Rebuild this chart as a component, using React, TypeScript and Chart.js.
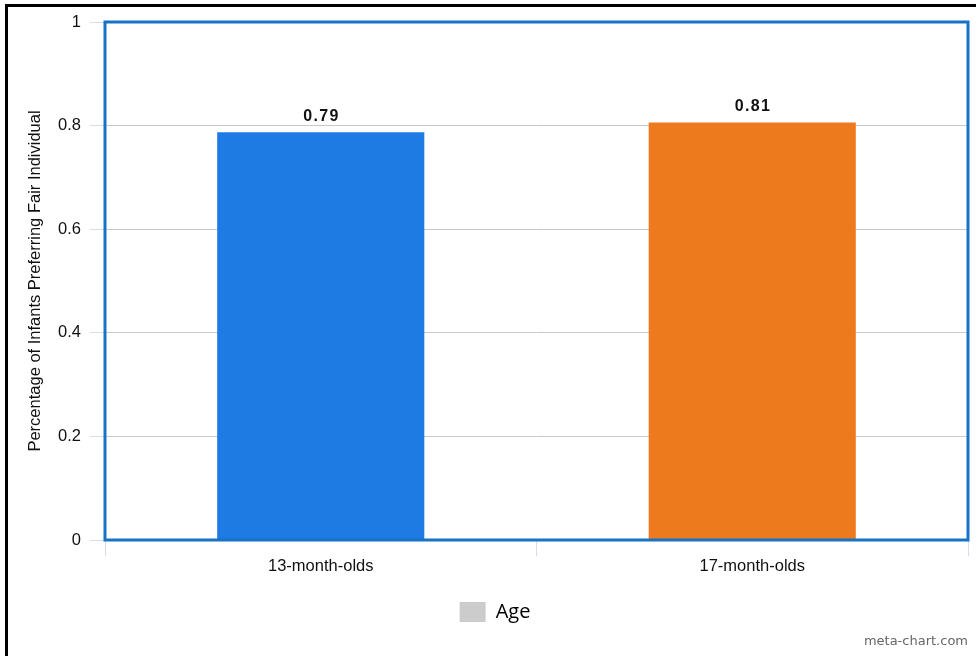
import React, { useEffect, useRef } from "react";
import { Chart, registerables } from "chart.js";

Chart.register(...registerables);

const categories: string[] = ["13-month-olds", "17-month-olds"];
const values: number[] = [0.787, 0.806];
const valueLabels: string[] = ["0.79", "0.81"];
const barColors: string[] = ["#1d7be3", "#ee7a1e"];
const seriesName = "Age";
const yTicks: number[] = [0, 0.2, 0.4, 0.6, 0.8, 1];
const yTitle = "Percentage of Infants Preferring Fair Individual";

const FONT = "'Liberation Sans', Arial, sans-serif";

const plotBorder = {
  id: "plotBorder",
  afterDatasetsDraw(chart: any) {
    const { ctx, chartArea } = chart;
    ctx.save();
    ctx.strokeStyle = "#1673c6";
    ctx.lineWidth = 3;
    ctx.strokeRect(chartArea.left, chartArea.top, chartArea.right - chartArea.left, chartArea.bottom - chartArea.top);
    ctx.restore();
  },
};

const valueLabelPlugin = {
  id: "valueLabels",
  afterDatasetsDraw(chart: any) {
    const { ctx } = chart;
    const meta = chart.getDatasetMeta(0);
    ctx.save();
    ctx.font = "bold 16px " + FONT;
    ctx.fillStyle = "#111";
    ctx.textAlign = "center";
    ctx.textBaseline = "middle";
    meta.data.forEach((bar: any, i: number) => {
      const txt = valueLabels[i].split("").join(String.fromCharCode(8202));
      ctx.fillText(txt, bar.x, bar.y - 16);
    });
    ctx.restore();
  },
};

export default function App() {
  const ref = useRef<HTMLCanvasElement>(null);
  useEffect(() => {
    if (!ref.current) return;
    const chart = new Chart(ref.current, {
      type: "bar",
      data: {
        labels: categories,
        datasets: [
          {
            label: seriesName,
            data: values,
            backgroundColor: barColors,
            borderWidth: 0,
            categoryPercentage: 0.96,
            barPercentage: 0.5,
          },
        ],
      },
      options: {
        animation: false,
        responsive: false,
        maintainAspectRatio: false,
        layout: { padding: { left: 22, right: 8, top: 22, bottom: 24 } },
        plugins: {
          tooltip: { enabled: false },
          legend: {
            position: "bottom",
            labels: {
              boxWidth: 26,
              boxHeight: 20,
              padding: 0,
              color: "#444",
              font: { family: "'Open Sans', sans-serif", size: 20 },
              generateLabels: () => [
                { text: seriesName, fillStyle: "#cccccc", strokeStyle: "#cccccc", lineWidth: 0, hidden: false, datasetIndex: 0 } as any,
              ],
            },
            onClick: () => {},
          },
        },
        scales: {
          x: {
            grid: { drawOnChartArea: false, drawTicks: true, tickLength: 16, tickColor: "#d2dcea", offset: true },
            border: { display: false },
            ticks: { color: "#111", font: { family: FONT, size: 16.5 }, padding: 1 },
            afterFit: (s: any) => { s.height = 62; },
          },
          y: {
            min: 0,
            max: 1,
            afterBuildTicks: (s: any) => { s.ticks = yTicks.map((v) => ({ value: v })); },
            grid: { color: "#c8c8c8", lineWidth: 1, tickLength: 15, tickColor: "#d2dcea" },
            border: { display: false },
            ticks: {
              color: "#111",
              padding: 9,
              font: { family: FONT, size: 16.5 },
              callback: (v: any) => String(Math.round(Number(v) * 10) / 10),
            },
            title: {
              display: true,
              text: yTitle,
              color: "#111",
              font: { family: FONT, size: 16.5 },
              padding: { top: 4, bottom: 0 },
            },
            afterFit: (s: any) => { s.width = 83; },
          },
        },
      },
      plugins: [plotBorder, valueLabelPlugin],
    });
    return () => chart.destroy();
  }, []);

  return (
    <div style={{ position: "absolute", left: 0, top: 0, width: 976, height: 656, background: "#fff", overflow: "hidden" }}>
      <canvas ref={ref} width={976} height={656} style={{ position: "absolute", left: 0, top: 0 }} />
      <div style={{ position: "absolute", left: 5, top: 4, width: 971, height: 3, background: "#000" }} />
      <div style={{ position: "absolute", left: 5, top: 4, width: 3, height: 652, background: "#000" }} />
      <div
        style={{
          position: "absolute",
          right: 8,
          top: 632,
          fontFamily: "'DejaVu Sans', sans-serif",
          fontSize: 13,
          color: "#666",
          lineHeight: "18px",
        }}
      >
        meta-chart.com
      </div>
    </div>
  );
}
